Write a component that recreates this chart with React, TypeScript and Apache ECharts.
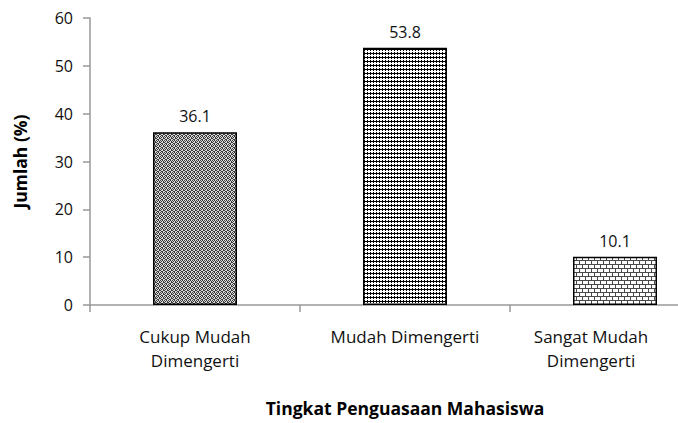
import React, { useEffect, useRef } from "react";
import * as echarts from "echarts";

const categories = ["Cukup Mudah\nDimengerti", "Mudah Dimengerti", "Sangat Mudah\nDimengerti"];
const values = [36.1, 53.8, 10.1];
const yTicks = [0, 10, 20, 30, 40, 50, 60];
const xAxisTitle = "Tingkat Penguasaan Mahasiswa";
const yAxisTitle = "Jumlah (%)";

function makePattern(rows: string[], dark: string, light: string) {
  const h = rows.length;
  const w = rows[0].length;
  const c = document.createElement("canvas");
  c.width = w;
  c.height = h;
  const ctx = c.getContext("2d")!;
  ctx.fillStyle = light;
  ctx.fillRect(0, 0, w, h);
  ctx.fillStyle = dark;
  for (let y = 0; y < h; y++) {
    for (let x = 0; x < w; x++) {
      if (rows[y][x] === "1") ctx.fillRect(x, y, 1, 1);
    }
  }
  return { image: c.toDataURL(), repeat: "repeat", imageWidth: w, imageHeight: h } as any;
}

export default function App() {
  const ref = useRef<HTMLDivElement>(null);
  useEffect(() => {
    if (!ref.current) return;
    const chart = echarts.init(ref.current, null, { renderer: "svg" });
    const p1 = makePattern(["1010", "0101", "1001", "0110"], "#3a3a3a", "#d8d8d8");
    const p2 = makePattern(["010", "111", "010", "000"], "#000000", "#ffffff");
    const p3 = makePattern(
      ["111111", "100000", "100000", "100000", "111111", "000100", "000100", "000100"],
      "#4a4a4a",
      "#ffffff"
    );
    const patterns = [p1, p2, p3];
    const font = "'Open Sans', 'Liberation Sans', sans-serif";
    chart.setOption({
      animation: false,
      backgroundColor: "#ffffff",
      grid: {
        left: 90,
        top: 18,
        width: 630,
        height: 287,
        containLabel: false,
        outerBoundsMode: "none",
      },
      xAxis: {
        type: "category",
        data: categories.map((c, i) =>
          i === 2 ? { value: c, textStyle: { padding: [0, 48, 0, 0] } } : c
        ),
        name: xAxisTitle,
        nameLocation: "middle",
        nameGap: 94,
        nameTextStyle: { fontFamily: font, fontWeight: "bold", fontSize: 17.5, color: "#000" },
        axisLine: { lineStyle: { color: "#999999", width: 1.5 } },
        axisTick: { show: true, length: 7, lineStyle: { color: "#999999", width: 1.5 } },
        axisLabel: {
          interval: 0,
          margin: 19,
          fontFamily: font,
          fontSize: 17,
          lineHeight: 24,
          color: "#111",
        },
      },
      yAxis: {
        type: "value",
        min: yTicks[0],
        max: yTicks[yTicks.length - 1],
        interval: 10,
        name: yAxisTitle,
        nameLocation: "middle",
        nameRotate: 90,
        nameGap: 61,
        nameTextStyle: { fontFamily: font, fontWeight: "bold", fontSize: 17.5, color: "#000" },
        axisLine: { show: true, lineStyle: { color: "#999999", width: 1.5 } },
        axisTick: { show: true, length: 7, lineStyle: { color: "#999999", width: 1.5 } },
        splitLine: { show: false },
        axisLabel: { margin: 17, fontFamily: font, fontSize: 16, color: "#111" },
      },
      series: [
        {
          type: "bar",
          barWidth: "40%",
          data: values.map((v, i) => ({
            value: v,
            itemStyle: { color: patterns[i], borderColor: "#000", borderWidth: 1.5 },
          })),
          label: {
            show: true,
            position: "top",
            distance: 8,
            fontFamily: font,
            fontSize: 16,
            color: "#111",
            formatter: (p: any) => p.value.toFixed(1),
          },
        },
      ],
    });
    return () => chart.dispose();
  }, []);
  return (
    <div
      ref={ref}
      style={{ position: "absolute", left: 0, top: 0, width: 678, height: 423 }}
    />
  );
}
